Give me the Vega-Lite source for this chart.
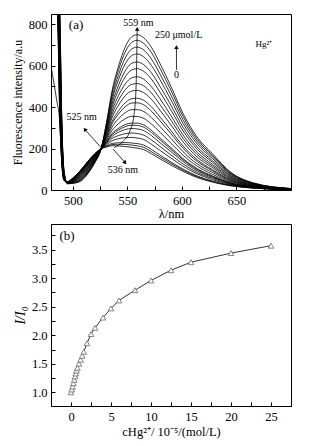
{
"$schema": "https://vega.github.io/schema/vega-lite/v6.json",
"padding": {"left": 10, "top": 13, "right": 16, "bottom": 2},
"bounds": "flush",
"spacing": 34,
"config": {
  "font": "Liberation Serif",
  "view": {"stroke": "black", "strokeWidth": 1},
  "axis": {"grid": false, "domainColor": "black", "tickColor": "black", "labelColor": "black", "titleColor": "black", "labelFontSize": 12.5, "titleFontSize": 12.5, "titleFontWeight": "normal", "tickSize": -4, "labelPadding": 8, "labelFlush": false, "labelOverlap": false, "domainWidth": 1, "tickWidth": 1, "labelFont": "Liberation Serif", "titleFont": "Liberation Serif"},
  "text": {"font": "Liberation Serif", "color": "black"}
},
"vconcat": [
{
  "width": 240, "height": 176,
  "encoding": {
    "x": {"field": "x", "type": "quantitative", "scale": {"domain": [480, 700], "nice": false},
      "axis": {"title": "λ/nm", "titlePadding": 1, "values": [500,525,550,575,600,625,650,675], "labelExpr": "datum.value % 50 == 0 ? datum.label : ''"}},
    "y": {"field": "y", "type": "quantitative", "scale": {"domain": [0, 850], "nice": false},
      "axis": {"title": "Fluorescence intensity/a.u", "titleFontSize": 12, "values": [0,100,200,300,400,500,600,700,800], "labelExpr": "datum.value % 200 == 0 ? datum.label : ''"}}
  },
  "layer": [
    {"data": {"values": [
{"k":0,"x":480,"y":600},{"k":0,"x":485,"y":440},{"k":0,"x":488,"y":330},{"k":0,"x":490,"y":120},{"k":0,"x":492,"y":45},{"k":0,"x":495,"y":40},{"k":0,"x":500,"y":58},{"k":0,"x":507,"y":95},{"k":0,"x":514,"y":140},{"k":0,"x":520,"y":175},{"k":0,"x":526,"y":200},{"k":0,"x":531,"y":208},{"k":0,"x":536,"y":214},{"k":0,"x":542,"y":213},{"k":0,"x":548,"y":210},{"k":0,"x":554,"y":206},{"k":0,"x":559,"y":202},{"k":0,"x":565,"y":195},{"k":0,"x":572,"y":175},{"k":0,"x":580,"y":150},{"k":0,"x":590,"y":120},{"k":0,"x":601,"y":90},{"k":0,"x":614,"y":60},{"k":0,"x":628,"y":38},{"k":0,"x":645,"y":20},{"k":0,"x":665,"y":9},{"k":0,"x":700,"y":2},
{"k":1,"x":480,"y":3000},{"k":1,"x":485,"y":1300},{"k":1,"x":488,"y":361},{"k":1,"x":490,"y":124},{"k":1,"x":492,"y":46},{"k":1,"x":495,"y":40},{"k":1,"x":500,"y":57},{"k":1,"x":507,"y":94},{"k":1,"x":514,"y":139},{"k":1,"x":520,"y":174},{"k":1,"x":526,"y":200},{"k":1,"x":531,"y":210},{"k":1,"x":536,"y":219},{"k":1,"x":542,"y":221},{"k":1,"x":548,"y":220},{"k":1,"x":554,"y":217},{"k":1,"x":559,"y":213},{"k":1,"x":565,"y":206},{"k":1,"x":572,"y":185},{"k":1,"x":580,"y":159},{"k":1,"x":590,"y":128},{"k":1,"x":601,"y":96},{"k":1,"x":614,"y":64},{"k":1,"x":628,"y":41},{"k":1,"x":645,"y":21},{"k":1,"x":665,"y":10},{"k":1,"x":700,"y":2},
{"k":2,"x":480,"y":3000},{"k":2,"x":485,"y":1300},{"k":2,"x":488,"y":372},{"k":2,"x":490,"y":128},{"k":2,"x":492,"y":47},{"k":2,"x":495,"y":40},{"k":2,"x":500,"y":57},{"k":2,"x":507,"y":93},{"k":2,"x":514,"y":138},{"k":2,"x":520,"y":173},{"k":2,"x":526,"y":200},{"k":2,"x":531,"y":213},{"k":2,"x":536,"y":225},{"k":2,"x":542,"y":228},{"k":2,"x":548,"y":229},{"k":2,"x":554,"y":227},{"k":2,"x":559,"y":224},{"k":2,"x":565,"y":217},{"k":2,"x":572,"y":196},{"k":2,"x":580,"y":168},{"k":2,"x":590,"y":135},{"k":2,"x":601,"y":101},{"k":2,"x":614,"y":68},{"k":2,"x":628,"y":43},{"k":2,"x":645,"y":23},{"k":2,"x":665,"y":10},{"k":2,"x":700,"y":2},
{"k":3,"x":480,"y":3000},{"k":3,"x":485,"y":1300},{"k":3,"x":488,"y":400},{"k":3,"x":490,"y":138},{"k":3,"x":492,"y":49},{"k":3,"x":495,"y":39},{"k":3,"x":500,"y":56},{"k":3,"x":507,"y":90},{"k":3,"x":514,"y":135},{"k":3,"x":520,"y":171},{"k":3,"x":526,"y":200},{"k":3,"x":531,"y":219},{"k":3,"x":536,"y":238},{"k":3,"x":542,"y":248},{"k":3,"x":548,"y":253},{"k":3,"x":554,"y":254},{"k":3,"x":559,"y":251},{"k":3,"x":565,"y":244},{"k":3,"x":572,"y":221},{"k":3,"x":580,"y":191},{"k":3,"x":590,"y":154},{"k":3,"x":601,"y":115},{"k":3,"x":614,"y":78},{"k":3,"x":628,"y":50},{"k":3,"x":645,"y":26},{"k":3,"x":665,"y":11},{"k":3,"x":700,"y":2},
{"k":4,"x":480,"y":3000},{"k":4,"x":485,"y":1300},{"k":4,"x":488,"y":422},{"k":4,"x":490,"y":146},{"k":4,"x":492,"y":51},{"k":4,"x":495,"y":39},{"k":4,"x":500,"y":55},{"k":4,"x":507,"y":88},{"k":4,"x":514,"y":132},{"k":4,"x":520,"y":169},{"k":4,"x":526,"y":200},{"k":4,"x":531,"y":224},{"k":4,"x":536,"y":249},{"k":4,"x":542,"y":263},{"k":4,"x":548,"y":272},{"k":4,"x":554,"y":275},{"k":4,"x":559,"y":273},{"k":4,"x":565,"y":265},{"k":4,"x":572,"y":242},{"k":4,"x":580,"y":210},{"k":4,"x":590,"y":169},{"k":4,"x":601,"y":126},{"k":4,"x":614,"y":85},{"k":4,"x":628,"y":56},{"k":4,"x":645,"y":28},{"k":4,"x":665,"y":12},{"k":4,"x":700,"y":3},
{"k":5,"x":480,"y":3000},{"k":5,"x":485,"y":1300},{"k":5,"x":488,"y":444},{"k":5,"x":490,"y":154},{"k":5,"x":492,"y":53},{"k":5,"x":495,"y":38},{"k":5,"x":500,"y":54},{"k":5,"x":507,"y":86},{"k":5,"x":514,"y":130},{"k":5,"x":520,"y":167},{"k":5,"x":526,"y":200},{"k":5,"x":531,"y":229},{"k":5,"x":536,"y":259},{"k":5,"x":542,"y":279},{"k":5,"x":548,"y":292},{"k":5,"x":554,"y":297},{"k":5,"x":559,"y":295},{"k":5,"x":565,"y":287},{"k":5,"x":572,"y":263},{"k":5,"x":580,"y":228},{"k":5,"x":590,"y":185},{"k":5,"x":601,"y":138},{"k":5,"x":614,"y":93},{"k":5,"x":628,"y":61},{"k":5,"x":645,"y":31},{"k":5,"x":665,"y":13},{"k":5,"x":700,"y":3},
{"k":6,"x":480,"y":3000},{"k":6,"x":485,"y":1300},{"k":6,"x":488,"y":460},{"k":6,"x":490,"y":160},{"k":6,"x":492,"y":54},{"k":6,"x":495,"y":38},{"k":6,"x":500,"y":53},{"k":6,"x":507,"y":84},{"k":6,"x":514,"y":128},{"k":6,"x":520,"y":166},{"k":6,"x":526,"y":200},{"k":6,"x":531,"y":232},{"k":6,"x":536,"y":267},{"k":6,"x":542,"y":290},{"k":6,"x":548,"y":306},{"k":6,"x":554,"y":313},{"k":6,"x":559,"y":312},{"k":6,"x":565,"y":303},{"k":6,"x":572,"y":278},{"k":6,"x":580,"y":242},{"k":6,"x":590,"y":196},{"k":6,"x":601,"y":146},{"k":6,"x":614,"y":99},{"k":6,"x":628,"y":65},{"k":6,"x":645,"y":33},{"k":6,"x":665,"y":14},{"k":6,"x":700,"y":3},
{"k":7,"x":480,"y":3000},{"k":7,"x":485,"y":1300},{"k":7,"x":488,"y":471},{"k":7,"x":490,"y":164},{"k":7,"x":492,"y":55},{"k":7,"x":495,"y":38},{"k":7,"x":500,"y":52},{"k":7,"x":507,"y":83},{"k":7,"x":514,"y":127},{"k":7,"x":520,"y":165},{"k":7,"x":526,"y":200},{"k":7,"x":531,"y":235},{"k":7,"x":536,"y":273},{"k":7,"x":542,"y":298},{"k":7,"x":548,"y":316},{"k":7,"x":554,"y":323},{"k":7,"x":559,"y":323},{"k":7,"x":565,"y":314},{"k":7,"x":572,"y":288},{"k":7,"x":580,"y":251},{"k":7,"x":590,"y":204},{"k":7,"x":601,"y":152},{"k":7,"x":614,"y":103},{"k":7,"x":628,"y":68},{"k":7,"x":645,"y":34},{"k":7,"x":665,"y":15},{"k":7,"x":700,"y":3},
{"k":8,"x":480,"y":3000},{"k":8,"x":485,"y":1300},{"k":8,"x":488,"y":504},{"k":8,"x":490,"y":176},{"k":8,"x":492,"y":58},{"k":8,"x":495,"y":37},{"k":8,"x":500,"y":51},{"k":8,"x":507,"y":80},{"k":8,"x":514,"y":123},{"k":8,"x":520,"y":162},{"k":8,"x":526,"y":200},{"k":8,"x":531,"y":242},{"k":8,"x":536,"y":288},{"k":8,"x":542,"y":321},{"k":8,"x":548,"y":344},{"k":8,"x":554,"y":356},{"k":8,"x":559,"y":355},{"k":8,"x":565,"y":346},{"k":8,"x":572,"y":319},{"k":8,"x":580,"y":279},{"k":8,"x":590,"y":226},{"k":8,"x":601,"y":168},{"k":8,"x":614,"y":115},{"k":8,"x":628,"y":76},{"k":8,"x":645,"y":38},{"k":8,"x":665,"y":16},{"k":8,"x":700,"y":3},
{"k":9,"x":480,"y":3000},{"k":9,"x":485,"y":1300},{"k":9,"x":488,"y":537},{"k":9,"x":490,"y":188},{"k":9,"x":492,"y":60},{"k":9,"x":495,"y":37},{"k":9,"x":500,"y":49},{"k":9,"x":507,"y":77},{"k":9,"x":514,"y":120},{"k":9,"x":520,"y":160},{"k":9,"x":526,"y":200},{"k":9,"x":531,"y":249},{"k":9,"x":536,"y":304},{"k":9,"x":542,"y":345},{"k":9,"x":548,"y":373},{"k":9,"x":554,"y":388},{"k":9,"x":559,"y":388},{"k":9,"x":565,"y":379},{"k":9,"x":572,"y":350},{"k":9,"x":580,"y":306},{"k":9,"x":590,"y":249},{"k":9,"x":601,"y":185},{"k":9,"x":614,"y":126},{"k":9,"x":628,"y":85},{"k":9,"x":645,"y":42},{"k":9,"x":665,"y":18},{"k":9,"x":700,"y":4},
{"k":10,"x":480,"y":3000},{"k":10,"x":485,"y":1300},{"k":10,"x":488,"y":570},{"k":10,"x":490,"y":200},{"k":10,"x":492,"y":63},{"k":10,"x":495,"y":36},{"k":10,"x":500,"y":48},{"k":10,"x":507,"y":74},{"k":10,"x":514,"y":116},{"k":10,"x":520,"y":157},{"k":10,"x":526,"y":200},{"k":10,"x":531,"y":257},{"k":10,"x":536,"y":320},{"k":10,"x":542,"y":368},{"k":10,"x":548,"y":402},{"k":10,"x":554,"y":420},{"k":10,"x":559,"y":421},{"k":10,"x":565,"y":411},{"k":10,"x":572,"y":381},{"k":10,"x":580,"y":334},{"k":10,"x":590,"y":272},{"k":10,"x":601,"y":202},{"k":10,"x":614,"y":138},{"k":10,"x":628,"y":93},{"k":10,"x":645,"y":46},{"k":10,"x":665,"y":19},{"k":10,"x":700,"y":4},
{"k":11,"x":480,"y":3000},{"k":11,"x":485,"y":1300},{"k":11,"x":488,"y":592},{"k":11,"x":490,"y":208},{"k":11,"x":492,"y":65},{"k":11,"x":495,"y":36},{"k":11,"x":500,"y":47},{"k":11,"x":507,"y":72},{"k":11,"x":514,"y":114},{"k":11,"x":520,"y":155},{"k":11,"x":526,"y":200},{"k":11,"x":531,"y":262},{"k":11,"x":536,"y":331},{"k":11,"x":542,"y":383},{"k":11,"x":548,"y":421},{"k":11,"x":554,"y":441},{"k":11,"x":559,"y":443},{"k":11,"x":565,"y":433},{"k":11,"x":572,"y":402},{"k":11,"x":580,"y":352},{"k":11,"x":590,"y":287},{"k":11,"x":601,"y":213},{"k":11,"x":614,"y":146},{"k":11,"x":628,"y":98},{"k":11,"x":645,"y":49},{"k":11,"x":665,"y":20},{"k":11,"x":700,"y":4},
{"k":12,"x":480,"y":3000},{"k":12,"x":485,"y":1300},{"k":12,"x":488,"y":631},{"k":12,"x":490,"y":222},{"k":12,"x":492,"y":68},{"k":12,"x":495,"y":35},{"k":12,"x":500,"y":45},{"k":12,"x":507,"y":68},{"k":12,"x":514,"y":109},{"k":12,"x":520,"y":152},{"k":12,"x":526,"y":200},{"k":12,"x":531,"y":270},{"k":12,"x":536,"y":350},{"k":12,"x":542,"y":410},{"k":12,"x":548,"y":455},{"k":12,"x":554,"y":478},{"k":12,"x":559,"y":481},{"k":12,"x":565,"y":470},{"k":12,"x":572,"y":438},{"k":12,"x":580,"y":385},{"k":12,"x":590,"y":314},{"k":12,"x":601,"y":233},{"k":12,"x":614,"y":159},{"k":12,"x":628,"y":108},{"k":12,"x":645,"y":53},{"k":12,"x":665,"y":22},{"k":12,"x":700,"y":5},
{"k":13,"x":480,"y":3000},{"k":13,"x":485,"y":1300},{"k":13,"x":488,"y":664},{"k":13,"x":490,"y":234},{"k":13,"x":492,"y":71},{"k":13,"x":495,"y":34},{"k":13,"x":500,"y":43},{"k":13,"x":507,"y":65},{"k":13,"x":514,"y":106},{"k":13,"x":520,"y":149},{"k":13,"x":526,"y":200},{"k":13,"x":531,"y":278},{"k":13,"x":536,"y":366},{"k":13,"x":542,"y":434},{"k":13,"x":548,"y":484},{"k":13,"x":554,"y":510},{"k":13,"x":559,"y":514},{"k":13,"x":565,"y":503},{"k":13,"x":572,"y":469},{"k":13,"x":580,"y":412},{"k":13,"x":590,"y":337},{"k":13,"x":601,"y":250},{"k":13,"x":614,"y":171},{"k":13,"x":628,"y":116},{"k":13,"x":645,"y":57},{"k":13,"x":665,"y":24},{"k":13,"x":700,"y":5},
{"k":14,"x":480,"y":3000},{"k":14,"x":485,"y":1300},{"k":14,"x":488,"y":697},{"k":14,"x":490,"y":246},{"k":14,"x":492,"y":73},{"k":14,"x":495,"y":34},{"k":14,"x":500,"y":42},{"k":14,"x":507,"y":62},{"k":14,"x":514,"y":102},{"k":14,"x":520,"y":147},{"k":14,"x":526,"y":200},{"k":14,"x":531,"y":285},{"k":14,"x":536,"y":382},{"k":14,"x":542,"y":457},{"k":14,"x":548,"y":512},{"k":14,"x":554,"y":542},{"k":14,"x":559,"y":547},{"k":14,"x":565,"y":535},{"k":14,"x":572,"y":499},{"k":14,"x":580,"y":440},{"k":14,"x":590,"y":359},{"k":14,"x":601,"y":266},{"k":14,"x":614,"y":183},{"k":14,"x":628,"y":124},{"k":14,"x":645,"y":61},{"k":14,"x":665,"y":25},{"k":14,"x":700,"y":5},
{"k":15,"x":480,"y":3000},{"k":15,"x":485,"y":1300},{"k":15,"x":488,"y":735},{"k":15,"x":490,"y":260},{"k":15,"x":492,"y":77},{"k":15,"x":495,"y":33},{"k":15,"x":500,"y":40},{"k":15,"x":507,"y":58},{"k":15,"x":514,"y":98},{"k":15,"x":520,"y":144},{"k":15,"x":526,"y":200},{"k":15,"x":531,"y":293},{"k":15,"x":536,"y":400},{"k":15,"x":542,"y":484},{"k":15,"x":548,"y":546},{"k":15,"x":554,"y":580},{"k":15,"x":559,"y":586},{"k":15,"x":565,"y":573},{"k":15,"x":572,"y":536},{"k":15,"x":580,"y":472},{"k":15,"x":590,"y":386},{"k":15,"x":601,"y":286},{"k":15,"x":614,"y":197},{"k":15,"x":628,"y":134},{"k":15,"x":645,"y":66},{"k":15,"x":665,"y":27},{"k":15,"x":700,"y":6},
{"k":16,"x":480,"y":3000},{"k":16,"x":485,"y":1300},{"k":16,"x":488,"y":768},{"k":16,"x":490,"y":272},{"k":16,"x":492,"y":79},{"k":16,"x":495,"y":32},{"k":16,"x":500,"y":38},{"k":16,"x":507,"y":55},{"k":16,"x":514,"y":94},{"k":16,"x":520,"y":141},{"k":16,"x":526,"y":200},{"k":16,"x":531,"y":301},{"k":16,"x":536,"y":416},{"k":16,"x":542,"y":507},{"k":16,"x":548,"y":575},{"k":16,"x":554,"y":612},{"k":16,"x":559,"y":618},{"k":16,"x":565,"y":605},{"k":16,"x":572,"y":566},{"k":16,"x":580,"y":500},{"k":16,"x":590,"y":409},{"k":16,"x":601,"y":303},{"k":16,"x":614,"y":208},{"k":16,"x":628,"y":142},{"k":16,"x":645,"y":69},{"k":16,"x":665,"y":29},{"k":16,"x":700,"y":6},
{"k":17,"x":480,"y":3000},{"k":17,"x":485,"y":1300},{"k":17,"x":488,"y":807},{"k":17,"x":490,"y":286},{"k":17,"x":492,"y":82},{"k":17,"x":495,"y":32},{"k":17,"x":500,"y":36},{"k":17,"x":507,"y":51},{"k":17,"x":514,"y":90},{"k":17,"x":520,"y":138},{"k":17,"x":526,"y":200},{"k":17,"x":531,"y":309},{"k":17,"x":536,"y":435},{"k":17,"x":542,"y":534},{"k":17,"x":548,"y":608},{"k":17,"x":554,"y":649},{"k":17,"x":559,"y":657},{"k":17,"x":565,"y":643},{"k":17,"x":572,"y":602},{"k":17,"x":580,"y":532},{"k":17,"x":590,"y":435},{"k":17,"x":601,"y":322},{"k":17,"x":614,"y":222},{"k":17,"x":628,"y":152},{"k":17,"x":645,"y":74},{"k":17,"x":665,"y":31},{"k":17,"x":700,"y":6},
{"k":18,"x":480,"y":3000},{"k":18,"x":485,"y":1300},{"k":18,"x":488,"y":840},{"k":18,"x":490,"y":298},{"k":18,"x":492,"y":85},{"k":18,"x":495,"y":31},{"k":18,"x":500,"y":35},{"k":18,"x":507,"y":48},{"k":18,"x":514,"y":87},{"k":18,"x":520,"y":135},{"k":18,"x":526,"y":200},{"k":18,"x":531,"y":317},{"k":18,"x":536,"y":451},{"k":18,"x":542,"y":557},{"k":18,"x":548,"y":637},{"k":18,"x":554,"y":681},{"k":18,"x":559,"y":690},{"k":18,"x":565,"y":676},{"k":18,"x":572,"y":633},{"k":18,"x":580,"y":559},{"k":18,"x":590,"y":458},{"k":18,"x":601,"y":339},{"k":18,"x":614,"y":234},{"k":18,"x":628,"y":160},{"k":18,"x":645,"y":78},{"k":18,"x":665,"y":32},{"k":18,"x":700,"y":6},
{"k":19,"x":480,"y":3000},{"k":19,"x":485,"y":1300},{"k":19,"x":488,"y":873},{"k":19,"x":490,"y":310},{"k":19,"x":492,"y":88},{"k":19,"x":495,"y":31},{"k":19,"x":500,"y":33},{"k":19,"x":507,"y":45},{"k":19,"x":514,"y":83},{"k":19,"x":520,"y":132},{"k":19,"x":526,"y":200},{"k":19,"x":531,"y":324},{"k":19,"x":536,"y":467},{"k":19,"x":542,"y":581},{"k":19,"x":548,"y":666},{"k":19,"x":554,"y":713},{"k":19,"x":559,"y":723},{"k":19,"x":565,"y":708},{"k":19,"x":572,"y":664},{"k":19,"x":580,"y":587},{"k":19,"x":590,"y":481},{"k":19,"x":601,"y":356},{"k":19,"x":614,"y":245},{"k":19,"x":628,"y":168},{"k":19,"x":645,"y":82},{"k":19,"x":665,"y":34},{"k":19,"x":700,"y":7},
{"k":20,"x":480,"y":3000},{"k":20,"x":485,"y":1300},{"k":20,"x":488,"y":900},{"k":20,"x":490,"y":320},{"k":20,"x":492,"y":90},{"k":20,"x":495,"y":30},{"k":20,"x":500,"y":32},{"k":20,"x":507,"y":42},{"k":20,"x":514,"y":80},{"k":20,"x":520,"y":130},{"k":20,"x":526,"y":200},{"k":20,"x":531,"y":330},{"k":20,"x":536,"y":480},{"k":20,"x":542,"y":600},{"k":20,"x":548,"y":690},{"k":20,"x":554,"y":740},{"k":20,"x":559,"y":750},{"k":20,"x":565,"y":735},{"k":20,"x":572,"y":690},{"k":20,"x":580,"y":610},{"k":20,"x":590,"y":500},{"k":20,"x":601,"y":370},{"k":20,"x":614,"y":255},{"k":20,"x":628,"y":175},{"k":20,"x":645,"y":85},{"k":20,"x":665,"y":35},{"k":20,"x":700,"y":7}
    ]},
     "mark": {"type": "line", "clip": true, "interpolate": "monotone", "color": "black", "strokeWidth": 0.8},
     "encoding": {"detail": {"field": "k", "type": "nominal"}}},
    {"data": {"values": [{"x":538,"y":205},{"x":546,"y":235},{"x":552,"y":280},{"x":556,"y":360},{"x":558,"y":500},{"x":559,"y":775}]},
     "mark": {"type": "line", "interpolate": "monotone", "color": "black", "strokeWidth": 0.8},
     "encoding": {}},
    {"data": {"values": [{"x":595,"y":580,"x2":595,"y2":688},{"x":526,"y":204,"x2":511,"y2":293},{"x":537,"y":197,"x2":548,"y2":132}]},
     "mark": {"type": "rule", "color": "black", "strokeWidth": 0.8},
     "encoding": {"x2": {"field": "x2"}, "y2": {"field": "y2"}}},
    {"data": {"values": [{"x":595,"y":690},{"x":559,"y":778}]},
     "mark": {"type": "point", "shape": "triangle-up", "filled": true, "color": "black", "size": 20, "opacity": 1},
     "encoding": {}},
    {"data": {"values": [{"x":511,"y":293}]},
     "mark": {"type": "point", "shape": "triangle-up", "filled": true, "color": "black", "size": 20, "angle": 318, "opacity": 1},
     "encoding": {}},
    {"data": {"values": [{"x":548,"y":132}]},
     "mark": {"type": "point", "shape": "triangle-up", "filled": true, "color": "black", "size": 20, "angle": 139, "opacity": 1},
     "encoding": {}},
    {"data": {"values": [{"x":503,"y":797,"t":"(a)"}]},
     "mark": {"type": "text", "fontSize": 13},
     "encoding": {"text": {"field": "t"}}},
    {"data": {"values": [{"x":560,"y":807,"t":"559 nm"},{"x":597,"y":749,"t":"250 μmol/L"},{"x":595,"y":556,"t":"0"},{"x":508,"y":354,"t":"525 nm"},{"x":546,"y":97,"t":"536 nm"}]},
     "mark": {"type": "text", "fontSize": 10},
     "encoding": {"text": {"field": "t"}}},
    {"data": {"values": [{"x":675,"y":705,"t":"Hg²⁺"}]},
     "mark": {"type": "text", "fontSize": 9},
     "encoding": {"text": {"field": "t"}}}
  ]
},
{
  "width": 240, "height": 182,
  "data": {"values": [
{"c":0,"r":1.00},{"c":0.1,"r":1.05},{"c":0.2,"r":1.10},{"c":0.3,"r":1.16},{"c":0.4,"r":1.22},{"c":0.5,"r":1.28},{"c":0.6,"r":1.33},{"c":0.7,"r":1.38},{"c":0.8,"r":1.43},{"c":1.0,"r":1.50},{"c":1.2,"r":1.57},{"c":1.4,"r":1.64},{"c":1.6,"r":1.71},{"c":2.0,"r":1.86},{"c":2.5,"r":2.02},{"c":3,"r":2.13},{"c":4,"r":2.31},{"c":5,"r":2.47},{"c":6,"r":2.61},{"c":8,"r":2.79},{"c":10,"r":2.96},{"c":12.5,"r":3.14},{"c":15,"r":3.28},{"c":20,"r":3.44},{"c":25,"r":3.57}
  ]},
  "encoding": {
    "x": {"field": "c", "type": "quantitative", "scale": {"domain": [-2.5, 27.5], "nice": false},
      "axis": {"title": "cHg²⁺/ 10⁻⁵/(mol/L)", "titlePadding": 3, "values": [0,2.5,5,7.5,10,12.5,15,17.5,20,22.5,25], "labelExpr": "datum.value % 5 == 0 ? datum.label : ''"}},
    "y": {"field": "r", "type": "quantitative", "scale": {"domain": [0.76, 3.95], "nice": false},
      "axis": {"title": "I/I₀", "titleFontStyle": "italic", "titleFontSize": 14, "values": [1,1.25,1.5,1.75,2,2.25,2.5,2.75,3,3.25,3.5,3.75], "labelExpr": "(datum.value*2) % 1 == 0 ? format(datum.value, '.1f') : ''"}}
  },
  "layer": [
    {"mark": {"type": "line", "color": "black", "strokeWidth": 0.8}, "encoding": {}},
    {"mark": {"type": "point", "shape": "triangle-up", "size": 32, "filled": false, "fill": "white", "stroke": "#666666", "strokeWidth": 0.8, "opacity": 1}, "encoding": {}},
    {"data": {"values": [{"c":-0.5,"r":3.74,"t":"(b)"}]}, "mark": {"type": "text", "fontSize": 13}, "encoding": {"text": {"field": "t"}}}
  ]
}
]
}
